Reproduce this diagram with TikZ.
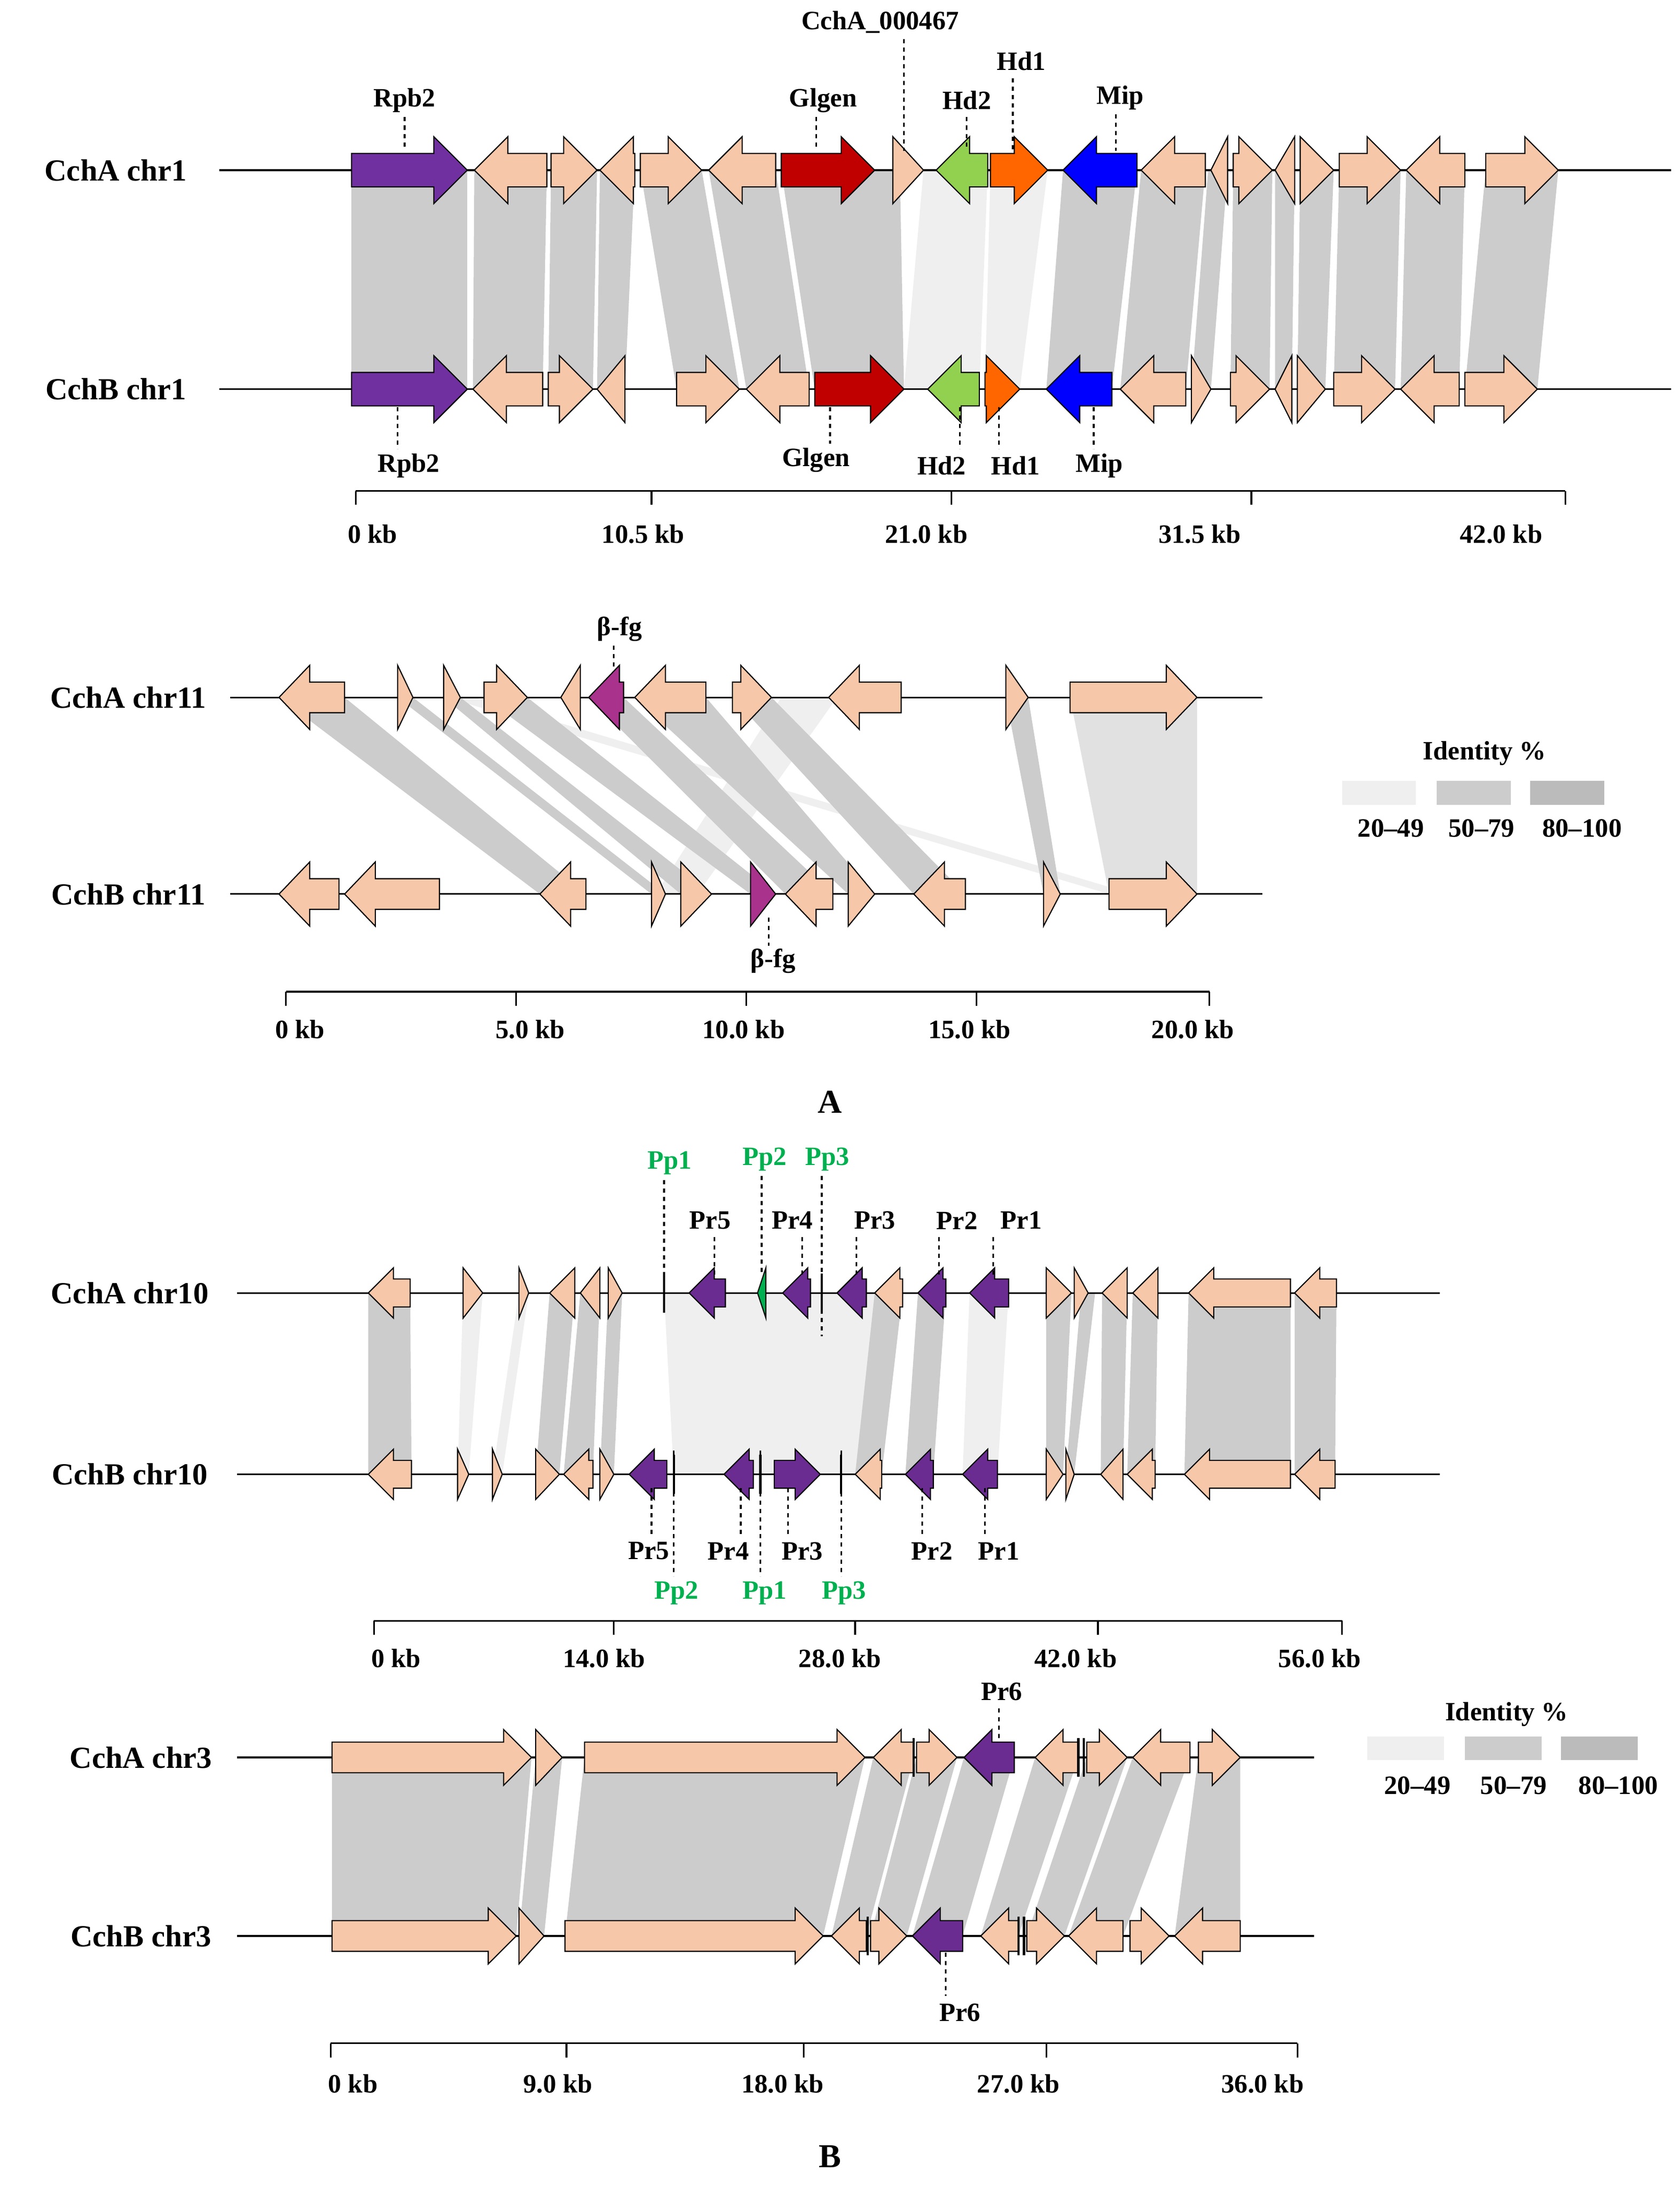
\documentclass[tikz,border=0pt]{standalone}
\usepackage{fontspec}
\setmainfont{Liberation Serif}
\begin{document}
\definecolor{peach}{HTML}{F6C7A9}
\definecolor{rpb}{HTML}{7030A0}
\definecolor{prp}{HTML}{6A2C91}
\definecolor{rd}{HTML}{C00000}
\definecolor{gr}{HTML}{92D050}
\definecolor{org}{HTML}{FF6600}
\definecolor{blu}{HTML}{0000FF}
\definecolor{mag}{HTML}{A8328C}
\definecolor{gtx}{HTML}{00B050}
\definecolor{lo}{HTML}{EFEFEF}
\definecolor{mi}{HTML}{CCCCCC}
\definecolor{hi}{HTML}{BBBBBB}
\def\H{24}\def\B{12}\def\HL{24}
\newcommand\gR[4]{\pgfmathsetmacro\hl{min(\HL,#2-#1)}%
\filldraw[fill=#4,draw=black,line width=0.8pt] (#1,#3-\B) -- (#2-\hl,#3-\B) -- (#2-\hl,#3-\H) -- (#2,#3) -- (#2-\hl,#3+\H) -- (#2-\hl,#3+\B) -- (#1,#3+\B) -- cycle;}
\newcommand\gL[4]{\pgfmathsetmacro\hl{min(\HL,#2-#1)}%
\filldraw[fill=#4,draw=black,line width=0.8pt] (#2,#3-\B) -- (#1+\hl,#3-\B) -- (#1+\hl,#3-\H) -- (#1,#3) -- (#1+\hl,#3+\H) -- (#1+\hl,#3+\B) -- (#2,#3+\B) -- cycle;}
\newcommand\bd[7]{\fill[#7] (#1,#5) -- (#2,#5) -- (#4,#6) -- (#3,#6) -- cycle;}
\newcommand\tk[2]{\draw[line width=1.6pt] (#1,#2-14) -- (#1,#2+14);}
\begin{tikzpicture}[x=1pt,y=-1pt,
  lab/.style={font=\fontsize{22}{24}\selectfont\bfseries},
  gl/.style={font=\fontsize{19}{21}\selectfont\bfseries},
  gg/.style={font=\fontsize{19}{21}\selectfont\bfseries,text=gtx},
  ax/.style={font=\fontsize{19}{21}\selectfont\bfseries},
  dl/.style={dashed,line width=1.2pt},
  ln/.style={line width=1.2pt}]
\useasboundingbox (0,0) rectangle (1204,1568);
% ================= chr1 =================
\def\ya{122}\def\yb{279}
\bd{252}{335}{252}{335}{\ya}{\yb}{mi}
\bd{340}{392}{339}{389}{\ya}{\yb}{mi}
\bd{395}{428}{393}{425}{\ya}{\yb}{mi}
\bd{430}{455}{428}{448}{\ya}{\yb}{mi}
\bd{459}{503}{485}{530}{\ya}{\yb}{mi}
\bd{508}{556}{535}{580}{\ya}{\yb}{mi}
\bd{560}{645}{584}{648}{\ya}{\yb}{mi}
\bd{662}{708}{648}{702}{\ya}{\yb}{lo}
\bd{710}{751}{706}{731}{\ya}{\yb}{lo}
\bd{762}{815}{750}{797}{\ya}{\yb}{mi}
\bd{818}{864}{803}{850}{\ya}{\yb}{mi}
\bd{866}{880}{854}{868}{\ya}{\yb}{mi}
\bd{884}{912}{882}{910}{\ya}{\yb}{mi}
\bd{914}{928}{914}{926}{\ya}{\yb}{mi}
\bd{932}{956}{930}{950}{\ya}{\yb}{mi}
\bd{960}{1004}{956}{1000}{\ya}{\yb}{mi}
\bd{1008}{1050}{1004}{1046}{\ya}{\yb}{mi}
\bd{1065}{1117}{1050}{1102}{\ya}{\yb}{mi}
\node[lab] (la1) at (83,\ya) {CchA chr1};
\node[lab] (lb1) at (83,\yb) {CchB chr1};
\draw[ln] (157,\ya) -- (1198,\ya);
\draw[ln] (157,\yb) -- (1198,\yb);
\gR{252}{335}{\ya}{rpb}\gL{340}{392}{\ya}{peach}\gR{395}{428}{\ya}{peach}\gL{430}{455}{\ya}{peach}
\gR{459}{503}{\ya}{peach}\gL{508}{556}{\ya}{peach}\gR{560}{627}{\ya}{rd}\gR{640}{662}{\ya}{peach}
\gL{671}{708}{\ya}{gr}\gR{710}{751}{\ya}{org}\gL{762}{815}{\ya}{blu}\gL{818}{864}{\ya}{peach}
\gL{868}{880}{\ya}{peach}\gR{884}{912}{\ya}{peach}\gL{914}{928}{\ya}{peach}\gR{932}{956}{\ya}{peach}
\gR{960}{1004}{\ya}{peach}\gL{1008}{1050}{\ya}{peach}\gR{1065}{1117}{\ya}{peach}
\gR{252}{335}{\yb}{rpb}\gL{339}{389}{\yb}{peach}\gR{393}{425}{\yb}{peach}\gL{428}{448}{\yb}{peach}
\gR{485}{530}{\yb}{peach}\gL{535}{580}{\yb}{peach}\gR{584}{648}{\yb}{rd}\gL{665}{702}{\yb}{gr}
\gR{706}{731}{\yb}{org}\gL{750}{797}{\yb}{blu}\gL{803}{850}{\yb}{peach}\gR{854}{868}{\yb}{peach}
\gR{882}{910}{\yb}{peach}\gL{914}{926}{\yb}{peach}\gR{930}{950}{\yb}{peach}\gR{956}{1000}{\yb}{peach}
\gL{1004}{1046}{\yb}{peach}\gR{1050}{1102}{\yb}{peach}
\node[gl] (t1) at (290,72) {Rpb2}; \draw[dl] (290,84) -- (290,108);
\node[gl] (t2) at (590,72) {Glgen}; \draw[dl] (585,84) -- (585,108);
\node[gl] (t3) at (631,16) {CchA\_000467}; \draw[dl] (648,28) -- (648,108);
\node[gl] (t4) at (693,72) {Hd2}; \draw[dl] (693,84) -- (693,108);
\node[gl] (t5) at (732,44) {Hd1}; \draw[dl] (726,56) -- (726,108);
\node[gl] (t6) at (803,70) {Mip}; \draw[dl] (800,82) -- (800,108);
\node[gl] (u1) at (293,334) {Rpb2}; \draw[dl] (285,292) -- (285,322);
\node[gl] (u2) at (585,330) {Glgen}; \draw[dl] (595,292) -- (595,318);
\node[gl] (u3) at (675,334) {Hd2}; \draw[dl] (688,292) -- (688,322);
\node[gl] (u4) at (728,334) {Hd1}; \draw[dl] (716,292) -- (716,322);
\node[gl] (u5) at (788,334) {Mip}; \draw[dl] (784,292) -- (784,322);
\draw[ln] (255,352) -- (1122,352);
\foreach \x in {255,467,682,897,1122}{\draw[ln] (\x,352) -- (\x,362);}
\node[ax] at (267,383) {0 kb};\node[ax] at (461,383) {10.5 kb};\node[ax] at (664,383) {21.0 kb};
\node[ax] at (860,383) {31.5 kb};\node[ax] at (1076,383) {42.0 kb};
% ================= chr11 =================
\def\H{23}\def\B{11}\def\HL{22}
\def\ya{500}\def\yb{641}
\bd{320}{340}{795}{812}{\ya}{\yb}{lo}
\bd{560}{600}{470}{500}{\ya}{\yb}{lo}
\bd{200}{247}{387}{420}{\ya}{\yb}{mi}
\bd{285}{296}{467}{477}{\ya}{\yb}{mi}
\bd{318}{330}{488}{510}{\ya}{\yb}{mi}
\bd{347}{378}{538}{556}{\ya}{\yb}{mi}
\bd{422}{447}{563}{597}{\ya}{\yb}{mi}
\bd{455}{506}{608}{627}{\ya}{\yb}{mi}
\bd{525}{553}{655}{692}{\ya}{\yb}{mi}
\bd{721}{737}{748}{760}{\ya}{\yb}{mi}
\bd{767}{858}{795}{858}{\ya}{\yb}{lo!60!mi}
\node[lab] (la11) at (92,\ya) {CchA chr11};
\node[lab] (lb11) at (92,\yb) {CchB chr11};
\draw[ln] (165,\ya) -- (905,\ya);
\draw[ln] (165,\yb) -- (905,\yb);
\gL{200}{247}{\ya}{peach}\gR{285}{296}{\ya}{peach}\gR{318}{330}{\ya}{peach}\gR{347}{378}{\ya}{peach}
\gL{402}{416}{\ya}{peach}\gL{422}{447}{\ya}{mag}\gL{455}{506}{\ya}{peach}\gR{525}{553}{\ya}{peach}
\gL{594}{646}{\ya}{peach}\gR{721}{737}{\ya}{peach}\gR{767}{858}{\ya}{peach}
\gL{200}{243}{\yb}{peach}\gL{247}{315}{\yb}{peach}\gL{387}{420}{\yb}{peach}\gR{467}{477}{\yb}{peach}
\gR{488}{510}{\yb}{peach}\gR{538}{556}{\yb}{mag}\gL{563}{597}{\yb}{peach}\gR{608}{627}{\yb}{peach}
\gL{655}{692}{\yb}{peach}\gR{748}{760}{\yb}{peach}\gR{795}{858}{\yb}{peach}
\node[gl] (b1) at (444,451) {β-fg}; \draw[dl] (440,463) -- (440,480);
\node[gl] (b2) at (554,689) {β-fg}; \draw[dl] (551,658) -- (551,678);
\draw[ln] (205,711) -- (867,711);
\foreach \x in {205,370,535,700,867}{\draw[ln] (\x,711) -- (\x,721);}
\node[ax] at (215,738) {0 kb};\node[ax] at (380,738) {5.0 kb};\node[ax] at (533,738) {10.0 kb};
\node[ax] at (695,738) {15.0 kb};\node[ax] at (855,738) {20.0 kb};
\node[gl] at (1064,540) {Identity \%};
\fill[lo] (962,560) rectangle (1015,577);\fill[mi] (1030,560) rectangle (1083,577);\fill[hi] (1097,560) rectangle (1150,577);
\node[gl] at (997,594) {20–49};\node[gl] at (1062,594) {50–79};\node[gl] at (1134,594) {80–100};
\node[font=\fontsize{24}{26}\selectfont\bfseries] at (595,790) {A};
% ================= chr10 =================
\def\H{18}\def\B{10}\def\HL{18}
\def\ya{927}\def\yb{1057}
\bd{476}{640}{483}{613}{\ya}{\yb}{lo}
\bd{264}{294}{264}{295}{\ya}{\yb}{mi}
\bd{332}{346}{328}{336}{\ya}{\yb}{lo}
\bd{372}{379}{353}{360}{\ya}{\yb}{lo}
\bd{394}{412}{384}{401}{\ya}{\yb}{mi}
\bd{416}{430}{404}{425}{\ya}{\yb}{mi}
\bd{436}{446}{430}{440}{\ya}{\yb}{mi}
\bd{627}{647}{613}{632}{\ya}{\yb}{mi}
\bd{658}{678}{649}{669}{\ya}{\yb}{mi}
\bd{695}{723}{690}{715}{\ya}{\yb}{lo}
\bd{750}{768}{750}{762}{\ya}{\yb}{mi}
\bd{775}{785}{764}{770}{\ya}{\yb}{mi}
\bd{790}{808}{789}{805}{\ya}{\yb}{mi}
\bd{812}{830}{808}{828}{\ya}{\yb}{mi}
\bd{852}{925}{849}{925}{\ya}{\yb}{mi}
\bd{928}{958}{928}{957}{\ya}{\yb}{mi}
\node[lab] (la10) at (93,\ya) {CchA chr10};
\node[lab] (lb10) at (93,\yb) {CchB chr10};
\draw[ln] (170,\ya) -- (1032,\ya);
\draw[ln] (170,\yb) -- (1032,\yb);
\gL{264}{294}{\ya}{peach}\gR{332}{346}{\ya}{peach}\gR{372}{379}{\ya}{peach}\gL{394}{412}{\ya}{peach}
\gL{416}{430}{\ya}{peach}\gR{436}{446}{\ya}{peach}\tk{476}{\ya}\gL{494}{520}{\ya}{prp}
\gL{543}{549}{\ya}{gtx}\gL{561}{581}{\ya}{prp}\tk{589}{\ya}\gL{600}{621}{\ya}{prp}
\gL{627}{647}{\ya}{peach}\gL{658}{678}{\ya}{prp}\gL{695}{723}{\ya}{prp}\gR{750}{768}{\ya}{peach}
\gR{770}{780}{\ya}{peach}\gL{790}{808}{\ya}{peach}\gL{812}{830}{\ya}{peach}\gL{852}{925}{\ya}{peach}\gL{928}{958}{\ya}{peach}
\gL{264}{295}{\yb}{peach}\gR{328}{336}{\yb}{peach}\gR{353}{360}{\yb}{peach}\gR{384}{401}{\yb}{peach}
\gL{404}{425}{\yb}{peach}\gR{430}{440}{\yb}{peach}\gL{451}{478}{\yb}{prp}\tk{483}{\yb}
\gL{519}{540}{\yb}{prp}\tk{545}{\yb}\gR{555}{588}{\yb}{prp}\tk{603}{\yb}\gL{613}{632}{\yb}{peach}
\gL{649}{669}{\yb}{prp}\gL{690}{715}{\yb}{prp}\gR{750}{762}{\yb}{peach}\gR{764}{770}{\yb}{peach}
\gL{789}{805}{\yb}{peach}\gL{808}{828}{\yb}{peach}\gL{849}{925}{\yb}{peach}\gL{928}{957}{\yb}{peach}
\node[gg] (p1) at (480,834) {Pp1}; \draw[dl] (476,846) -- (476,913);
\node[gg] (p2) at (548,831) {Pp2}; \draw[dl] (546,843) -- (546,913);
\node[gg] (p3) at (593,831) {Pp3}; \draw[dl] (589,843) -- (589,958);
\node[gl] (r5) at (509,875) {Pr5}; \draw[dl] (512,887) -- (512,915);
\node[gl] (r4) at (568,875) {Pr4}; \draw[dl] (575,887) -- (575,915);
\node[gl] (r3) at (627,875) {Pr3}; \draw[dl] (614,887) -- (614,915);
\node[gl] (r2) at (686,875) {Pr2}; \draw[dl] (673,887) -- (673,915);
\node[gl] (r1) at (732,875) {Pr1}; \draw[dl] (712,887) -- (712,915);
\node[gl] (s5) at (465,1112) {Pr5}; \draw[dl] (467,1067) -- (467,1100);
\node[gl] (s4) at (522,1112) {Pr4}; \draw[dl] (531,1067) -- (531,1100);
\node[gl] (s3) at (575,1112) {Pr3}; \draw[dl] (565,1067) -- (565,1100);
\node[gl] (s2) at (668,1112) {Pr2}; \draw[dl] (661,1067) -- (661,1100);
\node[gl] (s1) at (716,1112) {Pr1}; \draw[dl] (706,1067) -- (706,1100);
\node[gg] (q2) at (485,1142) {Pp2}; \draw[dl] (483,1040) -- (483,1130);
\node[gg] (q1) at (548,1142) {Pp1}; \draw[dl] (545,1040) -- (545,1130);
\node[gg] (q3) at (605,1142) {Pp3}; \draw[dl] (603,1040) -- (603,1130);
\draw[ln] (268,1162) -- (962,1162);
\foreach \x in {268,440,613,787,962}{\draw[ln] (\x,1162) -- (\x,1172);}
\node[ax] at (284,1189) {0 kb};\node[ax] at (433,1189) {14.0 kb};\node[ax] at (602,1189) {28.0 kb};
\node[ax] at (771,1189) {42.0 kb};\node[ax] at (946,1189) {56.0 kb};
% ================= chr3 =================
\def\H{20}\def\B{11}\def\HL{20}
\def\ya{1260}\def\yb{1388}
\bd{238}{381}{238}{370}{\ya}{\yb}{mi}
\bd{384}{403}{372}{390}{\ya}{\yb}{mi}
\bd{419}{620}{405}{590}{\ya}{\yb}{mi}
\bd{626}{655}{596}{621}{\ya}{\yb}{mi}
\bd{657}{686}{624}{650}{\ya}{\yb}{mi}
\bd{691}{727}{654}{690}{\ya}{\yb}{mi}
\bd{742}{773}{703}{730}{\ya}{\yb}{mi}
\bd{779}{808}{736}{763}{\ya}{\yb}{mi}
\bd{812}{853}{766}{805}{\ya}{\yb}{mi}
\bd{859}{889}{842}{889}{\ya}{\yb}{mi}
\node[lab] (la3) at (101,\ya) {CchA chr3};
\node[lab] (lb3) at (101,\yb) {CchB chr3};
\draw[ln] (170,\ya) -- (942,\ya);
\draw[ln] (170,\yb) -- (942,\yb);
\gR{238}{381}{\ya}{peach}\gR{384}{403}{\ya}{peach}\gR{419}{620}{\ya}{peach}\gL{626}{655}{\ya}{peach}\tk{655}{\ya}
\gR{657}{686}{\ya}{peach}\gL{691}{727}{\ya}{prp}\gL{742}{773}{\ya}{peach}\tk{773}{\ya}\tk{777}{\ya}
\gR{779}{808}{\ya}{peach}\gL{812}{853}{\ya}{peach}\gR{859}{889}{\ya}{peach}
\gR{238}{370}{\yb}{peach}\gR{372}{390}{\yb}{peach}\gR{405}{590}{\yb}{peach}\gL{596}{621}{\yb}{peach}\tk{622}{\yb}
\gR{624}{650}{\yb}{peach}\gL{654}{690}{\yb}{prp}\gL{703}{730}{\yb}{peach}\tk{730}{\yb}\tk{734}{\yb}
\gR{736}{763}{\yb}{peach}\gL{766}{805}{\yb}{peach}\gR{810}{838}{\yb}{peach}\gL{842}{889}{\yb}{peach}
\node[gl] (r6) at (718,1213) {Pr6}; \draw[dl] (716,1225) -- (716,1248);
\node[gl] (s6) at (688,1443) {Pr6}; \draw[dl] (678,1400) -- (678,1431);
\draw[ln] (237,1465) -- (930,1465);
\foreach \x in {237,406,576,750,930}{\draw[ln] (\x,1465) -- (\x,1475);}
\node[ax] at (253,1494) {0 kb};\node[ax] at (400,1494) {9.0 kb};\node[ax] at (561,1494) {18.0 kb};
\node[ax] at (730,1494) {27.0 kb};\node[ax] at (905,1494) {36.0 kb};
\node[gl] at (1080,1229) {Identity \%};
\fill[lo] (980,1245) rectangle (1035,1262);\fill[mi] (1050,1245) rectangle (1105,1262);\fill[hi] (1119,1245) rectangle (1174,1262);
\node[gl] at (1016,1280) {20–49};\node[gl] at (1085,1280) {50–79};\node[gl] at (1160,1280) {80–100};
\node[font=\fontsize{24}{26}\selectfont\bfseries] at (595,1546) {B};
\end{tikzpicture}
\end{document}
